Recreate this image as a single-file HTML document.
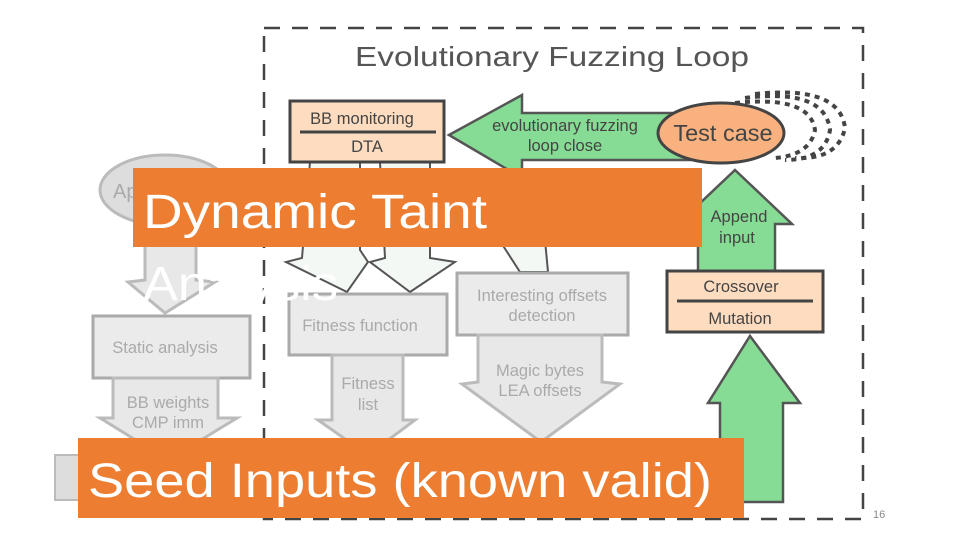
<!DOCTYPE html>
<html><head><meta charset="utf-8"><style>html,body{margin:0;padding:0;background:#fff}svg{display:block}</style></head><body>
<svg width="960" height="540" viewBox="0 0 960 540" xmlns="http://www.w3.org/2000/svg" font-family="Liberation Sans, sans-serif">
<rect x="264" y="28" width="599" height="491" fill="none" stroke="#444" stroke-width="2.5" stroke-dasharray="16,12"/>
<text x="552" y="66" font-size="28" fill="#555" text-anchor="middle" textLength="394" lengthAdjust="spacingAndGlyphs">Evolutionary Fuzzing Loop</text>
<g font-size="16.5">
<!-- gray left elements -->
<ellipse cx="165" cy="190" rx="65" ry="35" fill="#ddd" stroke="#bbb" stroke-width="3"/>
<text x="113" y="198" font-size="20" fill="#aaa">Ap</text>
<polygon points="145,240 196,240 196,280 215,282 165,313 128,282 145,280" fill="#e8e8e8" stroke="#bbb" stroke-width="3"/>
<rect x="93" y="316" width="157" height="62" fill="#ebebeb" stroke="#aaa" stroke-width="3"/>
<text x="165" y="353" fill="#aaa" text-anchor="middle">Static analysis</text>
<polygon points="113,378 218,378 218,418 237,418 168,460 100,418 113,418" fill="#e8e8e8" stroke="#bbb" stroke-width="3"/>
<text x="168" y="408" fill="#aaa" text-anchor="middle">BB weights</text>
<text x="168" y="428" fill="#aaa" text-anchor="middle">CMP imm</text>
<rect x="55" y="455" width="25" height="45" fill="#ddd" stroke="#bbb" stroke-width="2"/>
<polygon points="310,162 360,162 360,250 368,262 347,292 286,262 302,258" fill="#f4f8f4" stroke="#555" stroke-width="2"/>
<polygon points="380,162 430,162 430,258 455,262 410,292 370,262 385,258" fill="#f4f8f4" stroke="#555" stroke-width="2"/>
<polygon points="480,210 545,240 548,272 520,272" fill="#f4f8f4" stroke="#555" stroke-width="2"/>
<rect x="289" y="294" width="158" height="61" fill="#ebebeb" stroke="#aaa" stroke-width="3"/>
<text x="360" y="331" fill="#aaa" text-anchor="middle">Fitness function</text>
<polygon points="332,355 403,355 403,420 415,420 368,455 318,420 332,420" fill="#e8e8e8" stroke="#bbb" stroke-width="3"/>
<text x="368" y="389" fill="#aaa" text-anchor="middle">Fitness</text>
<text x="368" y="410" fill="#aaa" text-anchor="middle">list</text>
<rect x="457" y="273" width="171" height="62" fill="#ebebeb" stroke="#aaa" stroke-width="3"/>
<text x="542" y="301" fill="#aaa" text-anchor="middle">Interesting offsets</text>
<text x="542" y="321" fill="#aaa" text-anchor="middle">detection</text>
<polygon points="478,335 602,335 602,382 620,384 541,442 462,384 478,382" fill="#e8e8e8" stroke="#bbb" stroke-width="3"/>
<text x="540" y="376" fill="#aaa" text-anchor="middle">Magic bytes</text>
<text x="540" y="396" fill="#aaa" text-anchor="middle">LEA offsets</text>
<polygon points="449,135 522,95 522,113 690,113 690,160 522,160 522,178" fill="#86dc94" stroke="#555" stroke-width="2.5"/>
<text x="565" y="131" fill="#444" text-anchor="middle">evolutionary fuzzing</text>
<text x="565" y="151" fill="#444" text-anchor="middle">loop close</text>
<rect x="290" y="101" width="154" height="61" fill="#fddcc0" stroke="#444" stroke-width="3"/>
<line x1="300" y1="132" x2="436" y2="132" stroke="#444" stroke-width="3"/>
<text x="362" y="124" fill="#444" text-anchor="middle">BB monitoring</text>
<text x="367" y="152" fill="#444" text-anchor="middle">DTA</text>
<g fill="none" stroke="#444" stroke-width="4" stroke-dasharray="5,5">
<path d="M735,103 Q810,95 815,130 Q810,155 775,158"/>
<path d="M745,98 Q825,88 830,130 Q825,160 785,160"/>
<path d="M755,94 Q840,85 845,128 Q838,160 795,158"/>
</g>
<ellipse cx="721" cy="133" rx="63" ry="30" fill="#f9b27f" stroke="#444" stroke-width="3"/>
<text x="723" y="141" font-size="23.5" fill="#444" text-anchor="middle">Test case</text>
<polygon points="735,170 792,224 775,224 775,272 698,272 698,224 678,224" fill="#86dc94" stroke="#555" stroke-width="2.5"/>
<text x="739" y="222" fill="#444" text-anchor="middle">Append</text>
<text x="737" y="243" fill="#444" text-anchor="middle">input</text>
<rect x="667" y="271" width="156" height="61" fill="#fddcc0" stroke="#444" stroke-width="3"/>
<line x1="677" y1="301" x2="813" y2="301" stroke="#444" stroke-width="3"/>
<text x="741" y="292" fill="#444" text-anchor="middle">Crossover</text>
<text x="740" y="324" fill="#444" text-anchor="middle">Mutation</text>
<polygon points="750,336 800,403 783,403 783,502 720,502 720,403 708,403" fill="#86dc94" stroke="#555" stroke-width="2.5"/>
</g>
<rect x="133" y="168" width="569" height="79" fill="#ed7d31"/>
<text x="143" y="228" font-size="48" fill="#fff" textLength="344" lengthAdjust="spacingAndGlyphs">Dynamic Taint</text>
<text x="143" y="300" font-size="48" fill="#fff" textLength="195" lengthAdjust="spacingAndGlyphs">Analysis</text>
<rect x="78" y="438" width="666" height="80" fill="#ed7d31"/>
<text x="88" y="497" font-size="48" fill="#fff" textLength="624" lengthAdjust="spacingAndGlyphs">Seed Inputs (known valid)</text>
<text x="873" y="518" font-size="11" fill="#888">16</text>
</svg>
</body></html>
